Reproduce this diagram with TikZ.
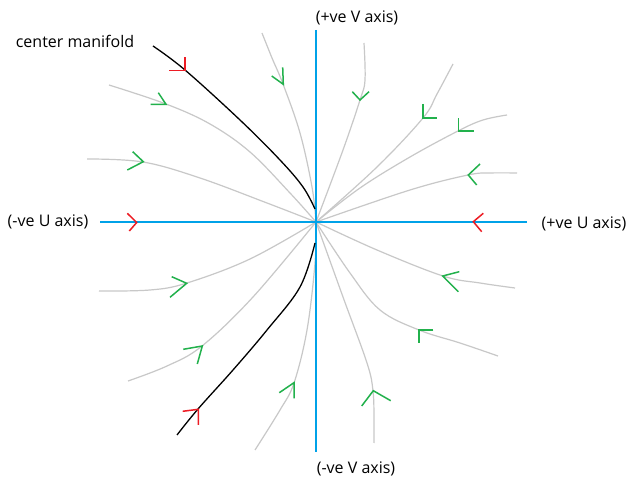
\documentclass[tikz,border=0pt]{standalone}
\usepackage{fontspec}
\setmainfont{Open Sans}
\definecolor{axisblue}{HTML}{00A2E8}
\definecolor{pgreen}{HTML}{22B14C}
\definecolor{pred}{HTML}{ED1C24}
\definecolor{lgray}{HTML}{C8C8C8}
\tikzset{
  axisline/.style={draw=axisblue, line width=1.6pt},
  traj/.style={draw=lgray, line width=1.2pt, smooth, tension=0.6},
  manifold/.style={draw=black, line width=1.3pt, smooth, tension=0.6},
  gch/.style={draw=pgreen, line width=1.5pt},
  rch/.style={draw=pred, line width=1.5pt},
  lbl/.style={font=\fontsize{16}{19}\selectfont, inner sep=0pt}
}
\newcommand\chev[4]{\draw[#1] #3 -- #2 -- #4;}
\begin{document}
\begin{tikzpicture}[x=1pt,y=-1pt]
\useasboundingbox (0,0) rectangle (627,486);
\fill[white] (0,0) rectangle (627,486);
\coordinate (O) at (316,222);
% labels
\node[lbl] (vp) at (357,18) {(+ve V axis)};
\node[lbl] (vm) at (356,469) {(-ve V axis)};
\node[lbl] (um) at (48,222) {(-ve U axis)};
\node[lbl] (up) at (584,224) {(+ve U axis)};
\node[lbl] (cm) at (75,41) {center manifold};
% trajectories
\draw[traj] plot coordinates {(262,33) (272,58) (283,84) (300,133) (312,187) (O)};
\draw[traj] plot coordinates {(109,85) (166,104) (210,124) (250,152) (290,193) (O)};
\draw[traj] plot coordinates {(87,159) (143,162) (200,178) (267,203) (O)};
\draw[traj] plot coordinates {(364,43) (365,80) (360,100) (343,150) (O)};
\draw[traj] plot coordinates {(453,64) (437,94) (423,118) (377,167) (O)};
\draw[traj] plot coordinates {(507,115) (483,120) (458,131) (410,157) (360,188) (O)};
\draw[traj] plot coordinates {(517,173) (490,173) (468,175) (410,190) (O)};
\draw[traj] plot coordinates {(99,291) (150,290) (187,283) (250,259) (O)};
\draw[traj] plot coordinates {(128,381) (167,366) (202,346) (253,297) (O)};
\draw[traj] plot coordinates {(255,450) (280,410) (294,383) (307,330) (315,263) (O)};
\draw[traj] plot coordinates {(515,288) (480,283) (443,276) (377,250) (O)};
\draw[traj] plot coordinates {(498,356) (460,343) (419,330) (380,310) (350,273) (O)};
\draw[traj] plot coordinates {(374,443) (374,420) (373,391) (367,363) (343,297) (O)};
% axes
\draw[axisline] (316,30) -- (316,452);
\draw[axisline] (100,222) -- (527,222);
% center manifold
\draw[manifold] plot coordinates {(153,46) (185,70) (240,120) (280,160) (303,187) (315,209)};
\draw[manifold] plot coordinates {(315,243) (300,287) (267,330) (233,370) (198,409) (177,435)};
% arrowheads
\chev{rch}{(185,70.7)}{(169,70.7)}{(185,57)}
\chev{gch}{(283.3,84.3)}{(271.7,76)}{(282.7,67.3)}
\chev{gch}{(166,104.3)}{(150.7,104.3)}{(158.3,92.7)}
\chev{gch}{(143.3,161.7)}{(132.7,151.7)}{(127.3,170)}
\chev{rch}{(136.7,222.5)}{(127.3,213.3)}{(129.3,231)}
\chev{gch}{(360,100)}{(352.3,91.7)}{(369,91.7)}
\chev{gch}{(423,118)}{(423,104)}{(437,118)}
\chev{gch}{(458.3,131)}{(458.3,118.3)}{(474.3,131)}
\chev{gch}{(468.3,175)}{(480,164)}{(476.7,185)}
\chev{rch}{(473.3,221.7)}{(483.3,213.3)}{(481.7,231.7)}
\chev{gch}{(186.7,283.3)}{(171.7,276.7)}{(170,297.3)}
\chev{gch}{(202.3,346)}{(183.3,349.3)}{(197.3,364)}
\chev{rch}{(198.3,409.3)}{(182.7,411.3)}{(198.3,425)}
\chev{gch}{(294,382.7)}{(279.3,392.7)}{(294,398.3)}
\chev{gch}{(442.7,276)}{(459.3,271.7)}{(458.3,291.7)}
\chev{gch}{(419,330)}{(433.3,330)}{(419,343.3)}
\chev{gch}{(373.3,390.7)}{(361.7,406)}{(390.7,400.7)}
\end{tikzpicture}
\end{document}
